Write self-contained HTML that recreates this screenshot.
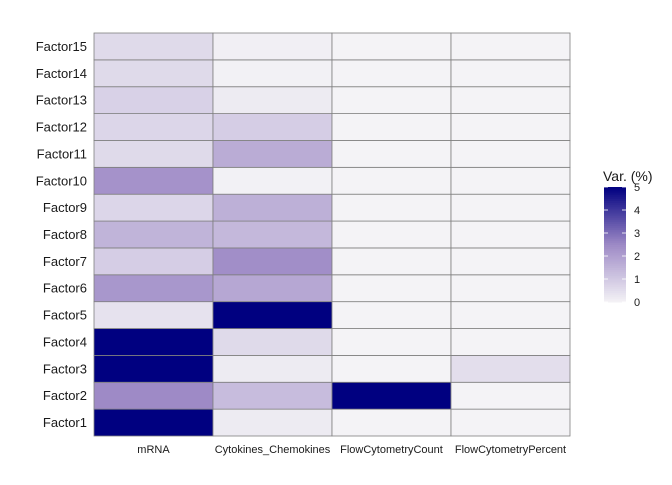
<!DOCTYPE html>
<html><head><meta charset="utf-8"><style>
body{margin:0;background:#fff;font-family:"Liberation Sans",sans-serif;}
svg text{font-family:"Liberation Sans",sans-serif;}
</style></head><body>
<svg id="c" width="672" height="480"></svg>
<script>
const factors=["Factor1","Factor2","Factor3","Factor4","Factor5","Factor6","Factor7","Factor8","Factor9","Factor10","Factor11","Factor12","Factor13","Factor14","Factor15"];
const views=["mRNA","Cytokines_Chemokines","FlowCytometryCount","FlowCytometryPercent"];
const mrnaVals=[5,2.5,5,5,0.4,2.2,0.9,1.5,0.7,2.3,0.6,0.7,0.8,0.6,0.6];
const cytoVals=[0.2,1.3,0.2,0.6,5,1.8,2.4,1.4,1.6,0.05,1.7,0.9,0.2,0.05,0.1];
const countVals=[0,5,0,0,0,0,0,0,0,0,0,0,0,0,0];
const percentVals=[0,0,0.5,0,0,0,0,0,0,0,0,0,0,0,0];
const legendTicks=[0,1,2,3,4,5];
const series=[mrnaVals,cytoVals,countVals,percentVals];
const NS="http://www.w3.org/2000/svg";
const svg=document.getElementById('c');
function mk(t,a){const e=document.createElementNS(NS,t);for(const k in a)e.setAttribute(k,a[k]);svg.appendChild(e);return e;}
const x0=94,x1=570,y0=33,y1=436;
const cw=(x1-x0)/views.length,ch=(y1-y0)/factors.length;
const xS=i=>x0+i*cw, yS=i=>y1-(i+1)*ch;
function lerp(a,b,t){return a.map((v,i)=>Math.round(v+(b[i]-v)*t));}
function col(v){const c0=[244,243,246],c1=[158,138,198],c2=[0,0,128];let t=Math.max(0,Math.min(5,v))/5;
 const c=t<0.5?lerp(c0,c1,t*2):lerp(c1,c2,(t-0.5)*2);return `rgb(${c[0]},${c[1]},${c[2]})`;}
series.forEach((s,j)=>s.forEach((v,i)=>{
 const r=mk('rect',{x:xS(j),y:yS(i),width:cw,height:ch,fill:col(v),stroke:'#7f7f7f','stroke-width':0.8});
 
 
}));
factors.forEach((f,i)=>{const t=mk('text',{x:87,y:yS(i)+ch/2+4.5,'text-anchor':'end','font-size':13,fill:'#1a1a1a'});t.textContent=f;
 });
views.forEach((v,j)=>{const t=mk('text',{x:xS(j)+cw/2,y:453,'text-anchor':'middle','font-size':11,fill:'#1a1a1a'});t.textContent=v;
 });
// legend
const lt=mk('text',{x:603,y:181,'font-size':14,fill:'#1a1a1a'});lt.textContent='Var. (%)';

const ly0=302,ly1=187,lx=604,lw=22;
for(let k=0;k<60;k++){const v=5*k/60;const r=mk('rect',{x:lx,y:ly0-(k+1)*(ly0-ly1)/60,width:lw,height:(ly0-ly1)/60+0.5,fill:col(v+5/120)});
 }
legendTicks.forEach(v=>{const y=ly0-v/5*(ly0-ly1);
 mk('line',{x1:lx,x2:lx+4,y1:y,y2:y,stroke:'#fff','stroke-width':0.8});mk('line',{x1:lx+lw-4,x2:lx+lw,y1:y,y2:y,stroke:'#fff','stroke-width':0.8});
 const t=mk('text',{x:634,y:y+4,'font-size':11,fill:'#1a1a1a'});t.textContent=v;
 });
</script>
</body></html>
